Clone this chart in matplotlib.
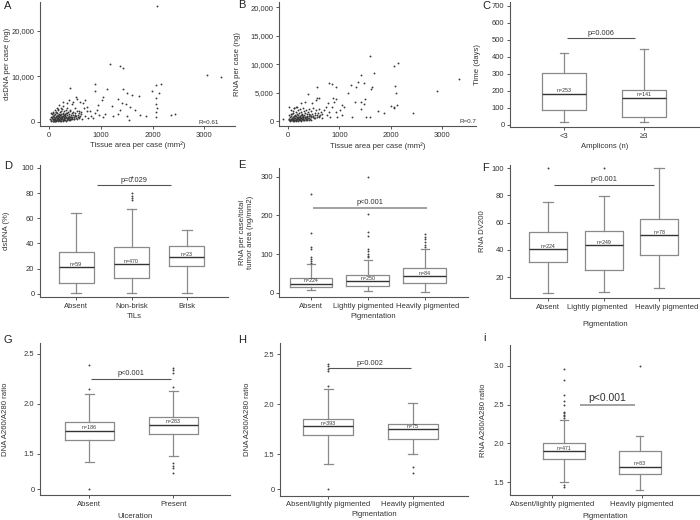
import matplotlib
matplotlib.use('Agg')

import matplotlib.pyplot as plt
import matplotlib.transforms as mtransforms
import numpy as np

plt.rcParams['font.family'] = ['Liberation Sans', 'DejaVu Sans']

# ---------------- data ----------------
# A: tissue area (mm2) vs dsDNA per case (ng)
a_spread = [
    (2080, 25500), (1174, 12750), (1367, 12380), (1420, 11800), (2070, 8130), (2160, 8280),
    (400, 7550), (890, 8420), (877, 6810), (1116, 7320), (1432, 7180), (1496, 6450),
    (1594, 5860), (1742, 5710), (1980, 6810), (2122, 6300), (2064, 5200), (2064, 3960),
    (2077, 3000), (2064, 2120), (2064, 1170), (2348, 1610), (2425, 1760), (1335, 4980),
    (1400, 4100), (1483, 3960), (1561, 3220), (1657, 2640), (1754, 1470), (1870, 1320),
    (1509, 1400), (1548, 440), (1322, 1760), (1367, 2640), (1206, 3590), (1226, 1320),
    (1077, 1760), (1032, 1170), (1013, 4830), (1045, 5570), (948, 3740), (929, 2640),
    (955, 1540), (884, 1900), (852, 950), (800, 1320), (787, 2420), (723, 2490),
    (735, 3370), (671, 3000), (645, 4100), (690, 4830), (594, 4470), (542, 4980),
    (516, 5420), (465, 4470), (439, 3960), (388, 4830), (336, 4100), (272, 4470),
    (259, 3520), (194, 3740), (142, 3150), (117, 2640), (349, 3150), (400, 2640),
    (491, 3000), (568, 2490), (620, 1760), (690, 1320), (755, 810), (561, 1030),
    (497, 1540), (626, 660), (3050, 10300), (3330, 9900),
]
a_cluster = [
    (20, 640), (35, 1120), (42, 420), (50, 880), (58, 1650), (63, 310), (70, 1320), (77, 760), (81, 2050), (88, 540),
    (93, 1180), (99, 1480), (104, 890), (108, 260), (113, 1720), (118, 640), (122, 1050), (127, 2300), (131, 1380), (136, 490),
    (140, 820), (146, 1950), (151, 1240), (155, 360), (159, 1560), (164, 980), (168, 2600), (173, 710), (177, 1410), (182, 1090),
    (186, 1830), (191, 450), (195, 1270), (200, 2150), (204, 860), (209, 1570), (213, 340), (218, 1130), (222, 2450), (227, 760),
    (231, 1690), (236, 1010), (240, 590), (245, 1380), (249, 2820), (254, 930), (258, 1760), (263, 480), (268, 1220), (272, 2040),
    (277, 700), (281, 1500), (286, 1080), (291, 2350), (296, 880), (300, 1630), (305, 400), (310, 1290), (316, 1960), (322, 1100),
    (328, 2720), (333, 640), (339, 1450), (345, 1880), (352, 960), (358, 2230), (365, 580), (372, 1340), (380, 1720), (388, 860),
    (396, 2480), (405, 1200), (414, 560), (423, 1640), (433, 2060), (443, 1040), (454, 1460), (466, 2280), (478, 760), (490, 1350),
    (503, 1900), (517, 900), (532, 2420), (548, 1580), (565, 1120), (583, 1980), (602, 1380), (622, 2160), (35, 200), (62, 240),
    (85, 300), (110, 180), (138, 260), (160, 220), (185, 350), (210, 280), (235, 320), (262, 230), (290, 390), (318, 300),
    (345, 420), (372, 360), (402, 500), (436, 600), (470, 550), (30, 1900), (75, 2300), (125, 2100), (170, 2900), (220, 3100),
    (55, 1000), (66, 580), (96, 760), (142, 1300), (148, 620), (188, 700), (198, 1500), (226, 1200), (252, 600), (284, 820),
    (312, 1800), (336, 980), (362, 1150), (392, 720), (418, 1000), (448, 780), (476, 1180), (510, 1250), (540, 700), (575, 850),
]

# B: tissue area (mm2) vs RNA per case (ng)
b_spread = [
    (1590, 11500), (2145, 10260), (2060, 9680), (1415, 8150), (1673, 8390), (798, 6630),
    (850, 6450), (928, 6040), (558, 6040), (1226, 6280), (1370, 6860), (1480, 6750),
    (1317, 6040), (1640, 5930), (1608, 5570), (2080, 6160), (2095, 4990), (1168, 4870),
    (1304, 3400), (1415, 3400), (1499, 3820), (1480, 2990), (1415, 2050), (1525, 640),
    (1590, 760), (1240, 640), (1758, 1760), (1868, 1470), (1998, 2640), (2060, 2520),
    (2128, 2760), (2060, 2230), (2430, 1470), (1058, 2870), (1090, 2520), (1005, 1940),
    (1058, 1060), (958, 760), (928, 1640), (863, 2520), (895, 3400), (941, 3820),
    (876, 4000), (603, 3990), (538, 3700), (474, 3230), (331, 3400), (247, 3110),
    (396, 4690), (571, 4100), (785, 3230), (733, 2520), (700, 1940), (655, 1230),
    (798, 1640), (817, 640), (766, 1060), (603, 880), (668, 470), (182, 2520),
    (117, 2230), (52, 1940), (19, 2520), (-100, 400), (2900, 5250), (3330, 7350),
]
b_cluster = [
    (15, 180), (28, 420), (36, 90), (45, 650), (52, 300), (60, 880), (66, 150), (74, 520), (80, 1150), (88, 260),
    (94, 700), (100, 380), (106, 1400), (112, 120), (118, 820), (124, 460), (130, 1050), (136, 220), (141, 600), (147, 1650),
    (152, 340), (158, 900), (163, 140), (169, 720), (174, 1250), (180, 420), (185, 560), (191, 1900), (196, 280), (202, 980),
    (207, 640), (213, 160), (218, 1350), (224, 480), (229, 820), (235, 2100), (240, 360), (246, 1080), (251, 580), (257, 240),
    (262, 1500), (268, 740), (273, 440), (279, 1200), (284, 2250), (290, 300), (295, 920), (301, 620), (306, 1700), (312, 200),
    (318, 1000), (324, 520), (330, 1420), (336, 780), (342, 340), (349, 1850), (355, 660), (362, 1150), (369, 440), (376, 950),
    (384, 1600), (392, 560), (400, 2050), (408, 820), (417, 1300), (426, 380), (435, 1050), (445, 1750), (455, 640), (466, 1250),
    (478, 900), (490, 2300), (503, 560), (517, 1450), (532, 1100), (548, 1900), (565, 760), (583, 1350), (602, 2200), (622, 1000),
    (40, 60), (70, 90), (98, 50), (126, 80), (150, 40), (176, 100), (204, 70), (232, 110), (260, 60), (288, 120),
    (316, 90), (344, 150), (372, 120), (404, 200), (440, 260), (25, 1000), (58, 1300), (90, 1700), (122, 2300), (160, 2500),
    (20, 420), (84, 360), (116, 560), (144, 960), (166, 480), (190, 780), (212, 420), (238, 620), (266, 1000), (292, 500),
    (322, 700), (350, 420), (378, 720), (412, 480), (450, 860), (486, 700), (520, 520), (560, 1100), (595, 650), (640, 1500),
]

# C: time (days) by amplicons
c_cats = ['<3', '\u22653']
c_n = [253, 141]
c_lo = [18, 18]
c_q1 = [88, 48]
c_med = [182, 160]
c_q3 = [305, 207]
c_hi = [422, 445]
c_fl = [[], []]

# D: dsDNA (%) by TILs
d_cats = ['Absent', 'Non-brisk', 'Brisk']
d_n = [59, 470, 23]
d_lo = [1, 1, 1]
d_q1 = [9, 12.6, 22.5]
d_med = [21, 23.5, 29]
d_q3 = [33, 37, 38]
d_hi = [64, 67, 50.5]
d_fl = [[], [93, 80, 78, 76, 74.5], []]

# E: RNA per case/total tumor area by pigmentation
e_cats = ['Absent', 'Lightly pigmented', 'Heavily pigmented']
e_n = [224, 250, 84]
e_lo = [6, 3, 2]
e_q1 = [14, 17, 26]
e_med = [23, 29, 42]
e_q3 = [39, 46, 63]
e_hi = [73, 85, 112]
e_fl = [[255, 155, 117, 112, 91, 86, 82, 77],
        [300, 203, 157, 146, 113, 107, 101, 96, 91],
        [151, 145, 138, 131, 124, 118]]

# F: RNA DV200 by pigmentation
f_cats = ['Absent', 'Lightly pigmented', 'Heavily pigmented']
f_n = [224, 249, 78]
f_lo = [8.3, 9, 12]
f_q1 = [31, 25, 36.6]
f_med = [40.5, 43.4, 50.7]
f_q3 = [53.4, 54.1, 63]
f_hi = [75.4, 79.5, 100]
f_fl = [[100], [100], []]

# G: DNA A260/A280 by ulceration
g_cats = ['Absent', 'Present']
g_n = [186, 283]
g_lo = [1.42, 1.48]
g_q1 = [1.64, 1.70]
g_med = [1.73, 1.79]
g_q3 = [1.82, 1.87]
g_hi = [2.10, 2.13]
g_fl = [[2.39, 2.15, 0.0], [2.36, 2.34, 2.31, 2.17, 1.41, 1.38, 1.36, 1.31]]

# H: DNA A260/A280 by pigmentation
h_cats = ['Absent/lightly pigmented', 'Heavily pigmented']
h_n = [393, 75]
h_lo = [1.40, 1.50]
h_q1 = [1.69, 1.65]
h_med = [1.78, 1.75]
h_q3 = [1.85, 1.80]
h_hi = [2.15, 2.01]
h_fl = [[2.40, 2.38, 2.35, 2.33, 2.18, 0.0], [1.37, 1.31]]

# I: RNA A260/A280 by pigmentation
i_cats = ['Absent/lightly pigmented', 'Heavily pigmented']
i_n = [471, 83]
i_lo = [1.50, 1.40]
i_q1 = [1.80, 1.61]
i_med = [1.90, 1.70]
i_q3 = [2.00, 1.90]
i_hi = [2.30, 2.10]
i_fl = [[2.96, 2.81, 2.62, 2.54, 2.49, 2.41, 2.39, 2.37, 2.35, 2.33, 1.47, 1.44], [3.00]]

# ---------------- drawing ----------------
W, H = 700, 520
fig = plt.figure(figsize=(7, 5.2), dpi=100)

GREY = '#8a8a8a'
TXT = '#333333'


def add_ax(box):
    l, t, r, b = box
    return fig.add_axes([l / W, 1 - b / H, (r - l) / W, (b - t) / H])


def style(ax):
    for s in ('top', 'right'):
        ax.spines[s].set_visible(False)
    for s in ('left', 'bottom'):
        ax.spines[s].set_color('#555555')
        ax.spines[s].set_linewidth(0.8)
    ax.tick_params(labelsize=5.5, length=2.5, width=0.7, color='#555555',
                   labelcolor=TXT, pad=1.5)


def labels(ax, box, xl, yl, xl_y, yl_x):
    l, t, r, b = box
    ax.set_xlabel(xl, fontsize=5.6, color=TXT)
    ax.set_ylabel(yl, fontsize=5.6, color=TXT)
    ax.xaxis.set_label_coords(0.5, (b - xl_y) / (b - t))
    ax.yaxis.set_label_coords((yl_x - l) / (r - l), 0.5)


def shift_ticklabels(ax, dx_px):
    # nudge each x tick label sideways by a few pixels
    for lab, dx in zip(ax.get_xticklabels(), dx_px):
        off = mtransforms.ScaledTranslation(dx / 100, 0, fig.dpi_scale_trans)
        lab.set_transform(lab.get_transform() + off)


def make_stats(lo, q1, med, q3, hi, fl, f=lambda v: v):
    return [dict(whislo=f(a), q1=f(b), med=f(c), q3=f(d), whishi=f(e),
                 fliers=[f(v) for v in g])
            for a, b, c, d, e, g in zip(lo, q1, med, q3, hi, fl)]


def boxes(ax, stats, pos, width, capw, ns):
    ax.bxp(stats, positions=pos, widths=width, capwidths=capw, manage_ticks=False,
           boxprops=dict(color=GREY, lw=0.9), whiskerprops=dict(color=GREY, lw=0.9),
           capprops=dict(color=GREY, lw=0.9), medianprops=dict(color='#333333', lw=1.0),
           flierprops=dict(marker='o', ms=1.4, mfc='#444444', mec='none'))
    for p, s, n in zip(pos, stats, ns):
        ax.annotate(f'n={n}', (p, s['med']), xytext=(0, 0.4), textcoords='offset points',
                    ha='center', va='bottom', fontsize=3.8, color=TXT)


def pline(ax, x0, x1, y, s, color='#555555', lw=0.8, fs=5.3):
    ax.plot([x0, x1], [y, y], color=color, lw=lw, solid_capstyle='butt')
    ax.annotate(s, ((x0 + x1) / 2, y), xytext=(0, 1.2), textcoords='offset points',
                ha='center', va='bottom', fontsize=fs, color=TXT)


# ---- A ----
boxA = (40, 2, 235, 126)
ax = add_ax(boxA)
style(ax)
pts = np.array(a_spread + a_cluster)
ax.scatter(pts[:, 0], pts[:, 1], s=1.8, c='#3a3a3a', linewidths=0)
ax.set_xlim(-180, 3592)
ax.set_ylim(-880, 26370)
ax.set_xticks([0, 1000, 2000, 3000], ['0', '1000', '2000', '3000'])
ax.set_yticks([0, 10000, 20000], ['0', '10,000', '20,000'])
ax.text(0.918, 0.012, 'R=0.61', transform=ax.transAxes, ha='right', va='bottom',
        fontsize=4.5, color=TXT)
labels(ax, boxA, 'Tissue area per case (mm\u00b2)', 'dsDNA per case (ng)', 141.5, 11)

# ---- B ----
boxB = (279, 2, 476, 126)
ax = add_ax(boxB)
style(ax)
pts = np.array(b_spread + b_cluster)
ax.scatter(pts[:, 0], pts[:, 1], s=1.8, c='#3a3a3a', linewidths=0)
ax.set_xlim(-175, 3658)
ax.set_ylim(-880, 20950)
ax.set_xticks([0, 1000, 2000, 3000], ['0', '1000', '2000', '3000'])
ax.set_yticks([0, 5000, 10000, 15000, 20000], ['0', '5,000', '10,000', '15,000', '20,000'])
ax.text(1.0, 0.02, 'R=0.7', transform=ax.transAxes, ha='right', va='bottom',
        fontsize=4.5, color=TXT)
labels(ax, boxB, 'Tissue area per case (mm\u00b2)', 'RNA per case (ng)', 142, 241)

# ---- C ----
boxC = (510, 2, 700, 127)
ax = add_ax(boxC)
style(ax)
pos = [1, 2]
boxes(ax, make_stats(c_lo, c_q1, c_med, c_q3, c_hi, c_fl), pos, 0.54, 0.11, c_n)
pline(ax, 1.04, 1.89, 510, 'p=0.006')
ax.set_xlim(0.325, 2.7)
ax.set_ylim(-12, 723)
ax.set_yticks(range(0, 800, 100))
ax.set_xticks(pos, c_cats)
labels(ax, boxC, 'Amplicons (n)', 'Time (days)', 142.5, 481)

# ---- D ----
boxD = (40, 165, 228, 297)
ax = add_ax(boxD)
style(ax)
pos = [1, 2, 3]
boxes(ax, make_stats(d_lo, d_q1, d_med, d_q3, d_hi, d_fl), pos, 0.63, 0.18, d_n)
pline(ax, 1.37, 2.72, 86, 'p=0.029')
ax.set_xlim(0.35, 3.74)
ax.set_ylim(-2.4, 102.2)
ax.set_yticks(range(0, 101, 20))
ax.set_xticks(pos, d_cats)
labels(ax, boxD, 'TILs', 'dsDNA (%)', 313, 10)

# ---- E ----
boxE = (279, 168, 468, 297)
ax = add_ax(boxE)
style(ax)
pos = [1, 2, 3]
boxes(ax, make_stats(e_lo, e_q1, e_med, e_q3, e_hi, e_fl), pos, 0.75, 0.14, e_n)
pline(ax, 1.04, 3.04, 220, 'p<0.001', color='#9a9a9a', lw=1.3)
ax.set_xlim(0.44, 3.76)
ax.set_ylim(-11.4, 323)
ax.set_yticks([0, 100, 200, 300])
ax.set_xticks(pos, e_cats)
shift_ticklabels(ax, [0, -4, 3])
labels(ax, boxE, 'Pigmentation', 'RNA per case/total\ntumor area (ng/mm2)', 313.5, 254)

# ---- F ----
boxF = (510, 165, 700, 298)
ax = add_ax(boxF)
style(ax)
pos = [1, 2, 3]
boxes(ax, make_stats(f_lo, f_q1, f_med, f_q3, f_hi, f_fl), pos, 0.68, 0.18, f_n)
pline(ax, 1.11, 2.91, 88, 'p<0.001')
ax.set_xlim(0.32, 3.73)
ax.set_ylim(4.8, 102.3)
ax.set_yticks(range(20, 101, 20))
ax.set_xticks(pos, f_cats)
shift_ticklabels(ax, [0, -6, 7])
labels(ax, boxF, 'Pigmentation', 'RNA DV200', 321.5, 486)


# broken y axis for G and H: the zero value sits just below 1.5
def brk(v):
    return 1.15 if v < 1.0 else v


ratio_ticks = [0.0, 1.5, 2.0, 2.5]

# ---- G ----
boxG = (40, 343, 230, 495)
ax = add_ax(boxG)
style(ax)
pos = [1, 2]
boxes(ax, make_stats(g_lo, g_q1, g_med, g_q3, g_hi, g_fl, brk), pos, 0.58, 0.10, g_n)
pline(ax, 1.02, 1.97, 2.25, 'p<0.001')
ax.set_xlim(0.413, 2.675)
ax.set_ylim(1.09, 2.61)
ax.set_yticks([brk(v) for v in ratio_ticks], ['0', '1.5', '2.0', '2.5'])
ax.set_xticks(pos, g_cats)
labels(ax, boxG, 'Ulceration', 'DNA A260/A280 ratio', 513, 9)

# ---- H ----
boxH = (280, 343, 468, 495.5)
ax = add_ax(boxH)
style(ax)
pos = [1, 2]
boxes(ax, make_stats(h_lo, h_q1, h_med, h_q3, h_hi, h_fl, brk), pos, 0.59, 0.10, h_n)
pline(ax, 1.0, 1.977, 2.357, 'p=0.002')
ax.set_xlim(0.428, 2.655)
ax.set_ylim(1.09, 2.61)
ax.set_yticks([brk(v) for v in ratio_ticks], ['0', '1.5', '2.0', '2.5'])
ax.set_xticks(pos, h_cats)
labels(ax, boxH, 'Pigmentation', 'DNA A260/A280 ratio', 511.5, 251)

# ---- I ----
boxI = (510, 345, 700, 495)
ax = add_ax(boxI)
style(ax)
pos = [1.134, 1.98]
boxes(ax, make_stats(i_lo, i_q1, i_med, i_q3, i_hi, i_fl), pos, 0.46, 0.08, i_n)
pline(ax, 1.31, 1.93, 2.497, 'p<0.001', color='#9a9a9a', lw=1.3, fs=7.5)
ax.set_xlim(0.532, 2.65)
ax.set_ylim(1.337, 3.265)
ax.set_yticks([1.5, 2.0, 2.5, 3.0], ['1.5', '2.0', '2.5', '3.0'])
ax.set_xticks([1, 2], i_cats)
labels(ax, boxI, 'Pigmentation', 'RNA A260/A280 ratio', 512.5, 487)

# panel letters
for letter, x, y in [('A', 4, 6), ('B', 238, 5), ('C', 482, 6),
                     ('D', 4, 166), ('E', 238, 165), ('F', 482, 168),
                     ('G', 4, 340), ('H', 238, 340), ('i', 483, 338)]:
    fig.text(x / W, 1 - y / H, letter, fontsize=8, color='#222222', ha='left', va='center')

fig.savefig('out.png', dpi=100)
